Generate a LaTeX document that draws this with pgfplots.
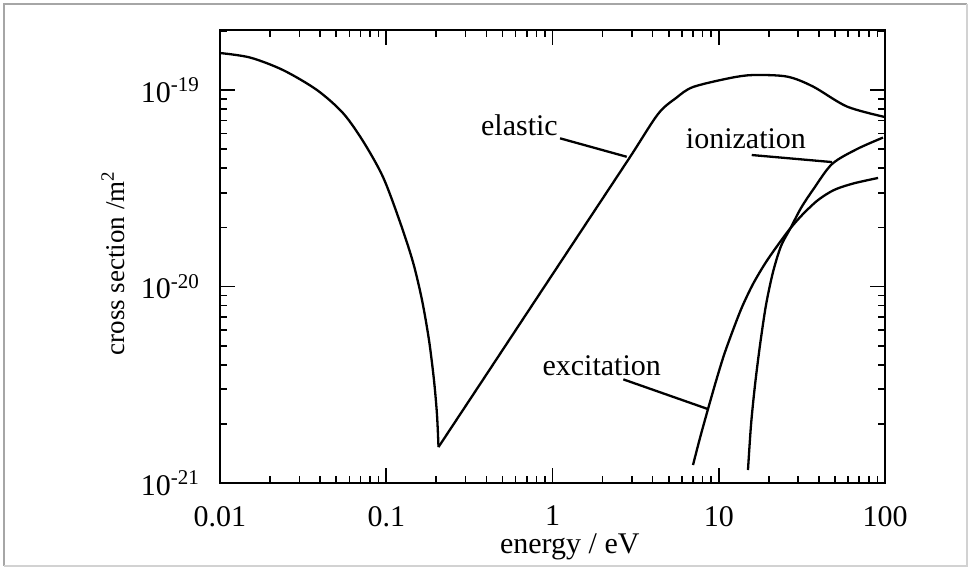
\documentclass[border=0pt]{standalone}
\usepackage{pgfplots}
\pgfplotsset{compat=1.18}
\usepackage{fontspec}
\setmainfont{Liberation Serif}

\begin{document}
\begin{tikzpicture}
  % frame of the whole figure (970 x 569 px at 0.5 bp per px)
  \useasboundingbox (-110bp,-43bp) rectangle (375bp,241.5bp);
  \draw[gray!70, line width=1bp] (-108bp,-41.5bp) -- (-108bp,239.5bp) -- (373.5bp,239.5bp);
  \draw[gray!35, line width=0.8bp] (373.5bp,239.5bp) -- (373.5bp,-41.5bp) -- (-108bp,-41.5bp);

  \begin{axis}[
    at={(0,0)}, anchor=south west,
    scale only axis,
    width=332.5bp, height=226.5bp,
    xmode=log, ymode=log,
    xmin=0.01, xmax=100,
    ymin=1e-21, ymax=2.02e-19,
    xtick={0.01,0.1,1,10,100},
    xticklabels={0.01,0.1,1,10,100},
    minor xtick={0.02,0.03,0.04,0.05,0.06,0.07,0.08,0.09,
                 0.2,0.3,0.4,0.5,0.6,0.7,0.8,0.9,
                 2,3,4,5,6,7,8,9,
                 20,30,40,50,60,70,80,90},
    ytick={1e-21,1e-20,1e-19},
    yticklabels={10\textsuperscript{-21},10\textsuperscript{-20},10\textsuperscript{-19}},
    minor ytick={2e-21,3e-21,4e-21,5e-21,6e-21,7e-21,8e-21,9e-21,
                 2e-20,3e-20,4e-20,5e-20,6e-20,7e-20,8e-20,9e-20,2e-19},
    tick align=inside,
    tick pos=both,
    major tick length=7.5bp,
    minor tick length=3.5bp,
    tick style={black, line width=0.8bp},
    axis line style={black, line width=1.1bp},
    ticklabel style={font=\fontsize{15bp}{18bp}\selectfont},
    xticklabel shift=8bp,
    yticklabel shift=6.5bp,
    xlabel={energy / eV},
    ylabel={cross section /m\textsuperscript{2}},
    xlabel style={font=\fontsize{15bp}{18bp}\selectfont,
                  at={(axis description cs:0.526,0)}, anchor=base, yshift=-35bp},
    ylabel style={font=\fontsize{13.5bp}{16bp}\selectfont,
                  at={(axis description cs:-0.1609,0.4857)}, anchor=center},
    curve/.style={black, line width=1.15bp, mark=none},
  ]

  % elastic, falling branch
  \addplot[curve, smooth] coordinates {
    (0.01,1.543e-19) (0.01515,1.464e-19) (0.02393,1.264e-19) (0.03833,1.0e-19)
    (0.0549,7.64e-20) (0.07246,5.50e-20) (0.0956,3.61e-20) (0.1210,2.129e-20)
    (0.1448,1.332e-20) (0.1641,8.54e-21) (0.1808,5.34e-21) (0.1937,3.34e-21)
    (0.2020,2.22e-21) (0.2062,1.525e-21)
  };
  % elastic, rising branch
  \addplot[curve, smooth] coordinates {
    (0.2062,1.525e-21) (0.4003,3.566e-21) (0.7765,8.34e-21) (1.507,1.950e-20)
    (2.925,4.56e-20) (4.312,7.55e-20) (5.534,9.11e-20) (7.0,1.036e-19)
    (11.69,1.151e-19) (16.07,1.192e-19) (25.73,1.171e-19) (36.9,1.042e-19)
    (59.1,8.24e-20) (100,7.29e-20)
  };
  % excitation
  \addplot[curve, smooth] coordinates {
    (7.0,1.235e-21) (7.71,1.694e-21) (8.615,2.379e-21) (9.627,3.304e-21)
    (10.75,4.48e-21) (12.18,6.005e-21) (13.80,7.865e-21) (16.07,1.030e-20)
    (19.24,1.332e-20) (23.35,1.684e-20) (27.02,1.984e-20) (32.13,2.339e-20)
    (39.54,2.755e-20) (49.33,3.10e-20) (64.2,3.343e-20) (90.8,3.57e-20)
  };
  % ionization
  \addplot[curve, smooth] coordinates {
    (14.99,1.165e-21) (15.63,1.973e-21) (16.52,3.153e-21) (17.71,5.04e-21)
    (19.24,8.05e-21) (21.20,1.185e-20) (23.68,1.607e-20) (27.02,1.984e-20)
    (31.24,2.510e-20) (37.15,3.135e-20) (48.0,4.202e-20) (67.9,5.01e-20)
    (97.3,5.73e-20)
  };

  % pointer lines
  \addplot[curve] coordinates {(1.110,5.68e-20) (2.795,4.575e-20)};
  \addplot[curve] coordinates {(15.79,4.67e-20) (48.0,4.30e-20)};
  \addplot[curve] coordinates {(2.667,3.37e-21) (8.615,2.379e-21)};

  \node[anchor=base, font=\fontsize{15bp}{18bp}\selectfont] at (axis cs:0.633,5.90e-20) {elastic};
  \node[anchor=base, font=\fontsize{15bp}{18bp}\selectfont] at (axis cs:14.58,5.07e-20) {ionization};
  \node[anchor=base, font=\fontsize{15bp}{18bp}\selectfont] at (axis cs:1.976,3.544e-21) {excitation};

  \end{axis}
\end{tikzpicture}
\end{document}
